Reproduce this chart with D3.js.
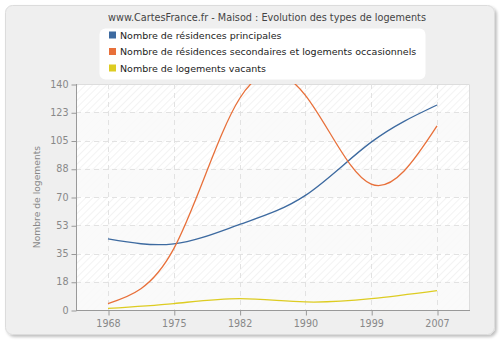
<!DOCTYPE html>
<html>
<head>
<meta charset="utf-8">
<script src="https://cdn.jsdelivr.net/npm/d3@7"></script>
<style>
  html, body { margin: 0; padding: 0; background: #ffffff; }
  svg { display: block; font-family: "DejaVu Sans", Verdana, sans-serif; }
</style>
</head>
<body>
<svg id="chart" width="500" height="340"></svg>
<script>
// Years of the census and the three housing series
const years = ["1968", "1975", "1982", "1990", "1999", "2007"];
const principales = [44, 41, 53, 71, 104, 127];
const secondaires = [4, 38, 131, 133, 78, 114];
const vacants = [1, 4, 7, 5, 7, 12];
const yTicks = [0, 17.5, 35, 52.5, 70, 87.5, 105, 122.5, 140];
const seriesNames = [
  "Nombre de résidences principales",
  "Nombre de résidences secondaires et logements occasionnels",
  "Nombre de logements vacants"
];
const seriesColors = ["#3d6aa0", "#e8703a", "#ddcc22"];

const svg = d3.select("#chart");
const plot = { left: 76, right: 470, top: 84, bottom: 310 };

const defs = svg.append("defs");

// card shadow + frame
const sh = defs.append("filter").attr("id", "shadow").attr("x", "-5%").attr("y", "-5%").attr("width", "110%").attr("height", "110%");
sh.append("feGaussianBlur").attr("in", "SourceAlpha").attr("stdDeviation", 1.5);
sh.append("feOffset").attr("dx", 1.5).attr("dy", 1.5).attr("result", "b");
sh.append("feComponentTransfer").append("feFuncA").attr("type", "linear").attr("slope", 0.25);
const m = sh.append("feMerge");
m.append("feMergeNode");
m.append("feMergeNode").attr("in", "SourceGraphic");

svg.append("rect")
  .attr("x", 5.5).attr("y", 5.5).attr("width", 489).attr("height", 329)
  .attr("rx", 7).attr("fill", "#efefef").attr("stroke", "#dcdcdc")
  .attr("filter", "url(#shadow)");

// hatch pattern for the plot background
const pat = defs.append("pattern").attr("id", "hatch")
  .attr("patternUnits", "userSpaceOnUse").attr("width", 5).attr("height", 5)
  .attr("patternTransform", "rotate(45)");
pat.append("rect").attr("width", 5).attr("height", 5).attr("fill", "#ffffff");
pat.append("line").attr("x1", 0).attr("y1", 0).attr("x2", 0).attr("y2", 5)
  .attr("stroke", "#ebebeb").attr("stroke-width", 1.2);

defs.append("clipPath").attr("id", "plotclip").append("rect")
  .attr("x", plot.left).attr("y", plot.top)
  .attr("width", plot.right - plot.left).attr("height", plot.bottom - plot.top);

const x = d3.scalePoint().domain(years).range([108, 437]);
const y = d3.scaleLinear().domain([0, 140]).range([plot.bottom, plot.top]);

// plot background: hatch, with every other band lightly washed
svg.append("rect")
  .attr("x", plot.left).attr("y", plot.top)
  .attr("width", plot.right - plot.left).attr("height", plot.bottom - plot.top)
  .attr("fill", "url(#hatch)");
for (let i = 0; i < yTicks.length - 1; i++) {
  if (i % 2 === 0) {
    svg.append("rect")
      .attr("x", plot.left).attr("y", y(yTicks[i + 1]))
      .attr("width", plot.right - plot.left).attr("height", y(yTicks[i]) - y(yTicks[i + 1]))
      .attr("fill", "#f9f9f9").attr("opacity", 0.85);
  }
}

// top and right frame of the plot
svg.append("path")
  .attr("d", `M${plot.left},${plot.top + 0.5}H${plot.right - 0.5}V${plot.bottom}`)
  .attr("fill", "none").attr("stroke", "#dddddd");

// grid
const grid = svg.append("g").attr("stroke", "#e2e2e2").attr("stroke-dasharray", "5,4").attr("stroke-width", 1);
yTicks.slice(1, -1).forEach(t => {
  grid.append("line").attr("x1", plot.left).attr("x2", plot.right)
    .attr("y1", Math.round(y(t)) + 0.5).attr("y2", Math.round(y(t)) + 0.5);
});
years.forEach(yr => {
  grid.append("line").attr("y1", plot.top).attr("y2", plot.bottom)
    .attr("x1", Math.round(x(yr)) + 0.5).attr("x2", Math.round(x(yr)) + 0.5);
});

// series
const line = d3.line()
  .x((d, i) => x(years[i]))
  .y(d => y(d))
  .curve(d3.curveNatural);
const lines = svg.append("g").attr("clip-path", "url(#plotclip)");
[principales, secondaires, vacants].forEach((vals, k) => {
  lines.append("path").datum(vals)
    .attr("d", line)
    .attr("fill", "none")
    .attr("stroke", seriesColors[k])
    .attr("stroke-width", 1.3);
});

// axes
const axisColor = "#999999";
const xAxis = svg.append("g")
  .attr("transform", `translate(0,${plot.bottom + 0.5})`)
  .call(d3.axisBottom(x).tickSize(5).tickPadding(5));
xAxis.select(".domain").attr("d", `M${plot.left},0H${plot.right}`);

const yAxis = svg.append("g")
  .attr("transform", `translate(${plot.left + 0.5},0)`)
  .call(d3.axisLeft(y).tickValues(yTicks).tickSize(5).tickPadding(3)
    .tickFormat(d => Math.round(d)));
yAxis.select(".domain").attr("d", `M0,${plot.top}V${plot.bottom}`);

[xAxis, yAxis].forEach(a => {
  a.select(".domain").attr("stroke", axisColor).attr("stroke-width", 1);
  a.selectAll(".tick line").attr("stroke", axisColor);
  a.selectAll(".tick text").attr("fill", "#888888")
    .style("font-family", "'DejaVu Sans', Verdana, sans-serif").style("font-size", "9.6px");
});
xAxis.selectAll(".tick line").attr("transform", "translate(0.5,0)");
yAxis.selectAll(".tick line").attr("transform", "translate(0,0.5)");

// y axis title
svg.append("text")
  .attr("transform", `translate(40,${(plot.top + plot.bottom) / 2}) rotate(-90)`)
  .attr("text-anchor", "middle")
  .attr("fill", "#888888")
  .style("font-size", "9.2px")
  .text("Nombre de logements");

// title
svg.append("text")
  .attr("x", 267).attr("y", 21)
  .attr("text-anchor", "middle")
  .attr("fill", "#444444")
  .style("font-size", "9.7px")
  .text("www.CartesFrance.fr - Maisod : Evolution des types de logements");

// legend
const lg = svg.append("g");
lg.append("rect")
  .attr("x", 99.5).attr("y", 28.5).attr("width", 326).attr("height", 51)
  .attr("rx", 6).attr("fill", "#ffffff");
seriesNames.forEach((name, i) => {
  const cy = 35 + i * 16.5;
  lg.append("rect").attr("x", 109).attr("y", cy - 3.5).attr("width", 7).attr("height", 7)
    .attr("fill", seriesColors[i]);
  lg.append("text").attr("x", 120).attr("y", cy + 3.8)
    .attr("fill", "#222222").style("font-size", "9.5px")
    .text(name);
});
</script>
</body>
</html>
